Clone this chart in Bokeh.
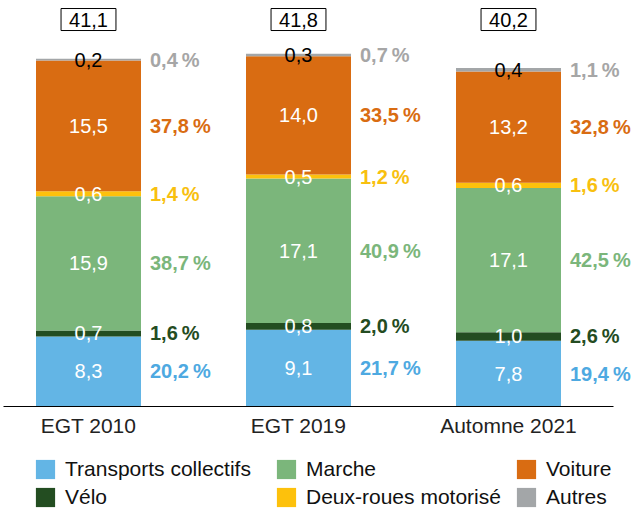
from bokeh.plotting import figure
from bokeh.models import ColumnDataSource, Legend, LegendItem, FixedTicker, Range1d
from bokeh.core.properties import value
from bokeh.embed import file_html
from bokeh.resources import INLINE

categories = ["EGT 2010", "EGT 2019", "Automne 2021"]
modes = ["Transports collectifs", "Vélo", "Marche", "Deux-roues motorisé", "Voiture", "Autres"]
tc = [8.3, 9.1, 7.8]
velo = [0.7, 0.8, 1.0]
marche = [15.9, 17.1, 17.1]
drm = [0.6, 0.5, 0.6]
voiture = [15.5, 14.0, 13.2]
autres = [0.2, 0.3, 0.4]
totals = [41.1, 41.8, 40.2]
pct_tc = [20.2, 21.7, 19.4]
pct_velo = [1.6, 2.0, 2.6]
pct_marche = [38.7, 40.9, 42.5]
pct_drm = [1.4, 1.2, 1.6]
pct_voiture = [37.8, 33.5, 32.8]
pct_autres = [0.4, 0.7, 1.1]

bar_colors = ["#63b5e5", "#234d21", "#7bb67b", "#fdc10c", "#d96c12", "#a3a6a8"]
pct_colors = ["#4ea9e1", "#244c22", "#7bb67b", "#f8c00f", "#d96c12", "#a6a6a6"]
val_colors = ["white", "white", "white", "white", "white", "black"]

FONT = "Liberation Sans"
BAR_W = 0.5

series = [tc, velo, marche, drm, voiture, autres]
pcts = [pct_tc, pct_velo, pct_marche, pct_drm, pct_voiture, pct_autres]
keys = ["s%d" % i for i in range(len(modes))]
xs = list(range(len(categories)))

def fr(v):
    return ("%.1f" % v).replace(".", ",")

data = {"x": xs}
for k, s in zip(keys, series):
    data[k] = s
src = ColumnDataSource(data)

W, H = 636, 510
PX_PER_X = 210.0
C0 = 88.0          # pixel position of first category centre
X0 = -C0 / PX_PER_X
PX_PER_Y = 8.44
BASE_PX = 406      # baseline position from top
p = figure(width=W, height=H, output_backend="svg", toolbar_location=None,
           x_range=Range1d(X0, X0 + W / PX_PER_X),
           y_range=Range1d(-(H - BASE_PX) / PX_PER_Y, BASE_PX / PX_PER_Y),
           min_border_left=0, min_border_right=0, min_border_top=0, min_border_bottom=0)
p.outline_line_color = None
p.background_fill_color = "white"
p.border_fill_color = "white"
p.xgrid.visible = False
p.ygrid.visible = False
p.yaxis.visible = False

renderers = p.vbar_stack(keys, x="x", width=BAR_W, color=bar_colors, line_color=None, source=src)

# segment value labels and percentage labels
lx, ly, lt, lc = [], [], [], []
px, py, pt, pc = [], [], [], []
for i in range(len(categories)):
    base = 0.0
    for j, s in enumerate(series):
        mid = base + s[i] / 2.0
        lx.append(xs[i]); ly.append(mid); lt.append(fr(s[i])); lc.append(val_colors[j])
        px.append(xs[i] + BAR_W / 2); py.append(mid)
        pt.append(fr(pcts[j][i]) + "\u202f%"); pc.append(pct_colors[j])
        base += s[i]

vsrc = ColumnDataSource(dict(x=lx, y=ly, t=lt, c=lc))
p.text(x="x", y="y", text="t", text_color="c", source=vsrc, text_align="center",
       text_baseline="middle", text_font=value(FONT), text_font_size="20px")

psrc = ColumnDataSource(dict(x=px, y=py, t=pt, c=pc))
p.text(x="x", y="y", text="t", text_color="c", source=psrc, text_align="left",
       text_baseline="middle", x_offset=9, text_font=value(FONT), text_font_size="20px",
       text_font_style="bold")

# totals in boxes
tsrc = ColumnDataSource(dict(x=xs, y=[45.85] * len(xs), t=[fr(v) for v in totals]))
p.text(x="x", y="y", text="t", source=tsrc, text_align="center",
       text_baseline="middle", text_font=value(FONT), text_font_size="20px",
       text_color="black", border_line_color="black", border_line_width=1,
       background_fill_color="white",
       padding=dict(left=8, right=8, top=4, bottom=4))

# x axis drawn at the baseline
p.xaxis.fixed_location = 0
p.xaxis.bounds = ((3 - C0) / PX_PER_X, 2 + 105 / PX_PER_X)
p.xaxis.ticker = FixedTicker(ticks=xs)
p.xaxis.major_label_overrides = {x: c for x, c in zip(xs, categories)}
p.xaxis.major_tick_line_color = None
p.xaxis.minor_tick_line_color = None
p.xaxis.axis_line_color = "black"
p.xaxis.major_label_standoff = 1
p.xaxis.major_label_text_font = FONT
p.xaxis.major_label_text_font_size = "21px"
p.xaxis.major_label_text_color = "#222222"

# legend: three columns of two items
cols = [[0, 1], [2, 3], [4, 5]]
col_x = [33, 274, 514]
for cx, idxs in zip(col_x, cols):
    items = [LegendItem(label=modes[k], renderers=[renderers[k]]) for k in idxs]
    lg = Legend(items=items, location=(cx, 1), orientation="vertical",
                glyph_width=24, glyph_height=24, label_standoff=8, spacing=4,
                padding=0, margin=0, border_line_color=None, background_fill_alpha=0,
                label_text_font=FONT, label_text_font_size="21px", label_text_color="#111111")
    p.add_layout(lg, "center")

open("out.html", "w").write(file_html(p, INLINE))
